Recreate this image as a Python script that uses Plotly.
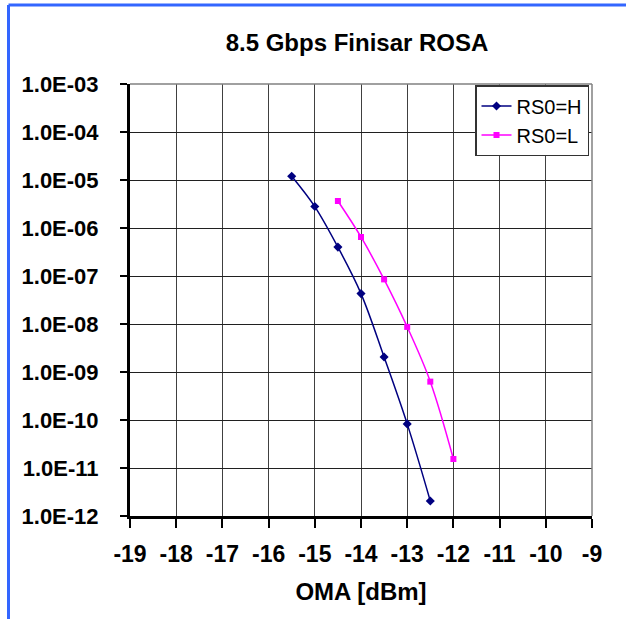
import plotly.graph_objects as go

# OMA [dBm] and BER
oma_h = [-15.5, -15.0, -14.5, -14.0, -13.5, -13.0, -12.5]
ber_h = [1.2e-5, 2.8e-6, 4.0e-7, 4.3e-8, 2.05e-9, 8.3e-11, 2.05e-12]

oma_l = [-14.5, -14.0, -13.5, -13.0, -12.5, -12.0]
ber_l = [3.65e-6, 6.5e-7, 8.5e-8, 8.7e-9, 6.3e-10, 1.54e-11]

x_ticks = list(range(-19, -8))
x_ticktext = ["<b>%d</b>" % v for v in x_ticks]
y_exps = list(range(-3, -13, -1))
y_ticktext = ["<b>1.0E-%02d</b>" % -e for e in y_exps]

font = "Liberation Sans, Arial, sans-serif"
W, H = 626, 619
L, R, T, B = 130, 34, 84, 103
pw, ph = W - L - R, H - T - B

fig = go.Figure()
fig.add_trace(go.Scatter(x=oma_h, y=ber_h, name="RS0=H", mode="lines+markers",
                         line=dict(color="#000080", width=1.5, shape="spline"),
                         marker=dict(symbol="diamond", size=7, color="#000080")))
fig.add_trace(go.Scatter(x=oma_l, y=ber_l, name="RS0=L", mode="lines+markers",
                         line=dict(color="#FF00FF", width=1.5, shape="spline"),
                         marker=dict(symbol="square", size=6, color="#FF00FF")))

fig.update_layout(
    width=W, height=H,
    margin=dict(l=L, r=R, t=T, b=B),
    paper_bgcolor="white", plot_bgcolor="white",
    font=dict(family=font, color="black"),
    title=dict(text="<b>8.5 Gbps Finisar ROSA</b>", x=357 / W, xanchor="center",
               y=1 - 43 / H, yanchor="middle", font=dict(size=24)),
    legend=dict(x=(589 - L) / pw, y=1 - 1 / ph, xanchor="right", yanchor="top", bgcolor="white",
                bordercolor="#333333", borderwidth=1.5, font=dict(size=20)),
    xaxis=dict(range=[-19, -9], tickvals=x_ticks, ticktext=x_ticktext,
               ticks="outside", ticklen=9, tickwidth=2,
               tickcolor="black", showline=True, linecolor="black", linewidth=3,
               showgrid=True, gridcolor="#404040", gridwidth=1,
               zeroline=False, tickfont=dict(size=23, family=font), ticklabelstandoff=6,
               title=dict(text="<b>OMA [dBm]</b>", font=dict(size=24), standoff=18)),
    yaxis=dict(type="log", range=[-12, -3], tickvals=[10.0 ** e for e in y_exps],
               ticktext=y_ticktext,
               ticks="outside", ticklen=7, tickwidth=2, tickcolor="black",
               showline=True, linecolor="black", linewidth=3,
               showgrid=True, gridcolor="#202020", gridwidth=1,
               zeroline=False, tickfont=dict(size=22, family=font), ticklabelstandoff=17),
)

# thin gray frame on top/right of plot area
fig.add_shape(type="line", xref="paper", yref="paper", x0=1, x1=1, y0=0, y1=1,
              line=dict(color="#808080", width=1.5))
fig.add_shape(type="line", xref="paper", yref="paper", x0=0, x1=1, y0=1, y1=1,
              line=dict(color="#808080", width=1.5))

# blue frame of the chart object (left and top edges)
bx = (8.5 - L) / pw
by = 1 + (T - 5) / ph
fig.add_shape(type="line", xref="paper", yref="paper",
              x0=bx, x1=bx, y0=-B / ph, y1=by, line=dict(color="#3366FF", width=3))
fig.add_shape(type="line", xref="paper", yref="paper",
              x0=bx, x1=1 + R / pw, y0=by, y1=by, line=dict(color="#3366FF", width=3))

fig.write_html("out.html", config={"displayModeBar": False},
               post_script="document.body.style.margin='0px';")
